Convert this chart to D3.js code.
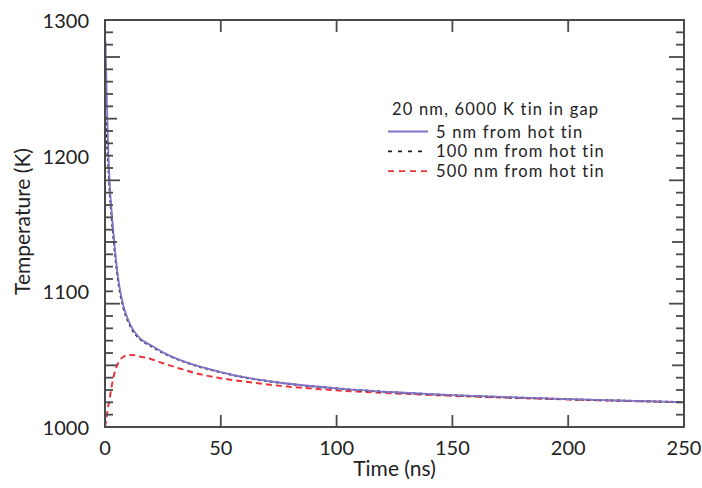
<!DOCTYPE html>
<html>
<head>
<meta charset="utf-8">
<script src="https://cdn.jsdelivr.net/npm/d3@7"></script>
<style>
  body { margin: 0; background: #fff; }
  text { font-family: Lato, "Open Sans", sans-serif; fill: #222; }
</style>
</head>
<body>
<div id="chart"></div>
<script>
// Data
var time5 = [0.25, 0.5, 1, 1.5, 2, 3, 4, 5, 6, 8, 10, 12, 15, 20, 25, 30, 40, 50, 60, 75, 100, 125, 150, 200, 250];
var temp5 = [1284, 1262, 1228, 1200, 1180, 1156, 1136, 1119, 1106, 1089, 1079, 1072, 1065.5, 1060, 1055, 1051, 1045, 1040.5, 1036.7, 1032.8, 1028.5, 1025.6, 1023.5, 1020.5, 1018.3];

var time100 = [0.35, 0.6, 1, 1.5, 2, 3, 4, 5, 6, 8, 10, 12, 15, 20, 25, 30, 40, 50, 60, 75, 100, 125, 150, 200, 250];
var temp100 = [1229, 1220, 1206, 1190, 1175, 1152, 1133, 1117, 1104, 1087.5, 1077.8, 1071, 1065, 1059.6, 1054.7, 1050.8, 1044.8, 1040.3, 1036.6, 1032.7, 1028.4, 1025.5, 1023.4, 1020.5, 1018.3];

var time500 = [0, 0.5, 1, 2, 3, 4, 5, 6, 8, 10, 12, 15, 20, 25, 30, 40, 50, 60, 75, 100, 125, 150, 200, 250];
var temp500 = [1000, 1005, 1011, 1021, 1031, 1039, 1044.5, 1048, 1051.8, 1053, 1053, 1052, 1050, 1047, 1044.3, 1039.3, 1036, 1033.5, 1030.5, 1027, 1024.8, 1023, 1020.3, 1018.2];

var xTicks = [0, 50, 100, 150, 200, 250];
var yTicks = [1000, 1100, 1200, 1300];
var legendTitle = "20 nm, 6000 K tin in gap";
var seriesNames = ["5 nm from hot tin", "100 nm from hot tin", "500 nm from hot tin"];

function drawChart() {

  // Settings
  var width = 702;
  var height = 488;
  var left = 105, right = 684, top = 20, bottom = 427;
  var axisColor = "#4a4a4a";

  var svg = d3.select('#chart')
    .append('svg')
    .attr('width', width)
    .attr('height', height);

  var x = d3.scaleLinear().domain([0, 250]).range([left, right]);
  var y = d3.scaleLinear().domain([1000, 1300]).range([bottom, top]);
  // the printed tick marks run on their own 33-step grid
  var tickGrid = d3.scaleLinear().domain([0, 33]).range([bottom, top]);

  var series = [
    {name: seriesNames[0], t: time5, v: temp5, color: "#8073c8", dash: null},
    {name: seriesNames[1], t: time100, v: temp100, color: "#1e1e1e", dash: "3,3"},
    {name: seriesNames[2], t: time500, v: temp500, color: "#e8333a", dash: "6,4"}
  ];

  var line = d3.line()
    .x(function(d) { return x(d[0]); })
    .y(function(d) { return y(d[1]); })
    .curve(d3.curveMonotoneX);

  // Curves (red & black under purple)
  [series[2], series[1], series[0]].forEach(function(s) {
    var pts = s.t.map(function(t, i) { return [t, s.v[i]]; });
    svg.append('path')
      .datum(pts)
      .attr('d', line)
      .attr('fill', 'none')
      .attr('stroke', s.color)
      .attr('stroke-width', s.dash ? 2 : 1.8)
      .attr('stroke-dasharray', s.dash);
  });

  // Frame
  svg.append('rect')
    .attr('x', left).attr('y', top)
    .attr('width', right - left).attr('height', bottom - top)
    .attr('fill', 'none')
    .attr('stroke', axisColor)
    .attr('stroke-width', 2);

  // Y tick marks, both sides, inward
  var grid = d3.range(1, 33);
  function tickLen(i) { return i % 10 === 0 ? 15 : (i % 5 === 0 ? 12 : 8); }
  svg.selectAll('.ytl').data(grid).enter().append('line')
    .attr('x1', left).attr('x2', function(i) { return left + tickLen(i); })
    .attr('y1', function(i) { return tickGrid(i); })
    .attr('y2', function(i) { return tickGrid(i); })
    .attr('stroke', axisColor).attr('stroke-width', 1.8);
  svg.selectAll('.ytr').data(grid).enter().append('line')
    .attr('x1', right).attr('x2', function(i) { return right - tickLen(i); })
    .attr('y1', function(i) { return tickGrid(i); })
    .attr('y2', function(i) { return tickGrid(i); })
    .attr('stroke', axisColor).attr('stroke-width', 1.8);

  // X tick marks top & bottom
  var inner = xTicks.slice(1, -1);
  svg.selectAll('.xtb').data(inner).enter().append('line')
    .attr('x1', function(d) { return x(d); }).attr('x2', function(d) { return x(d); })
    .attr('y1', bottom).attr('y2', bottom - 12)
    .attr('stroke', axisColor).attr('stroke-width', 1.8);
  svg.selectAll('.xtt').data(inner).enter().append('line')
    .attr('x1', function(d) { return x(d); }).attr('x2', function(d) { return x(d); })
    .attr('y1', top).attr('y2', top + 12)
    .attr('stroke', axisColor).attr('stroke-width', 1.8);

  // Tick labels
  svg.selectAll('.ylab').data(yTicks).enter().append('text')
    .attr('x', left - 16)
    .attr('y', function(d) { return y(d) + 8; })
    .attr('text-anchor', 'end')
    .style('font-size', '20px')
    .text(function(d) { return d; });

  svg.selectAll('.xlab').data(xTicks).enter().append('text')
    .attr('x', function(d) { return x(d); })
    .attr('y', 455)
    .attr('text-anchor', 'middle')
    .style('font-size', '20px')
    .text(function(d) { return d; });

  // Axis titles
  svg.append('text')
    .attr('x', (left + right) / 2)
    .attr('y', 476)
    .attr('text-anchor', 'middle')
    .style('font-size', '21px')
    .text('Time (ns)');

  svg.append('text')
    .attr('transform', 'translate(30,' + ((top + bottom) / 2 - 2) + ') rotate(-90)')
    .attr('text-anchor', 'middle')
    .style('font-size', '21px')
    .text('Temperature (K)');

  // Legend
  var legFont = '16.5px', legSpacing = '1.2px';
  svg.append('text')
    .attr('x', 392).attr('y', 115)
    .style('font-size', legFont)
    .style('letter-spacing', legSpacing)
    .text(legendTitle);

  var legendDash = ["", "4,6", "6,5"];
  var lg = svg.selectAll('.leg').data(series).enter().append('g')
    .attr('transform', function(d, i) { return 'translate(388,' + (131.5 + i * 19.8) + ')'; });
  lg.append('line')
    .attr('x1', 0).attr('x2', 40)
    .attr('stroke', function(d) { return d.color; })
    .attr('stroke-width', 1.8)
    .attr('stroke-dasharray', function(d, i) { return legendDash[i]; });
  lg.append('text')
    .attr('x', 48).attr('y', 6)
    .style('font-size', legFont)
    .style('letter-spacing', legSpacing)
    .text(function(d) { return d.name; });
}

drawChart();
</script>
</body>
</html>
